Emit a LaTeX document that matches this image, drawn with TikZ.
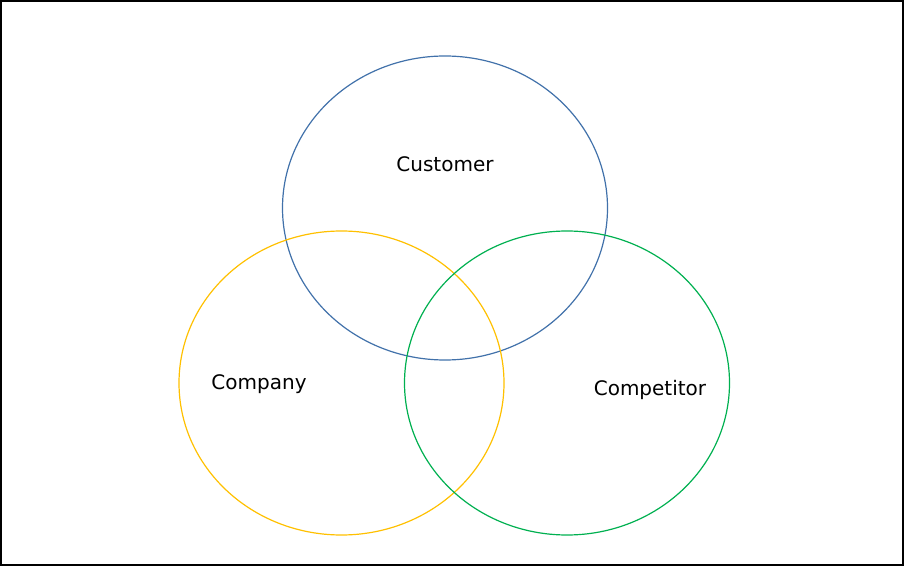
\documentclass[tikz,border=0pt]{standalone}
\usepackage{fontspec}
\setmainfont{DejaVu Sans}
\usetikzlibrary{shapes.geometric}
\definecolor{custblue}{RGB}{65,113,170}
\definecolor{compyellow}{RGB}{255,192,0}
\definecolor{compgreen}{RGB}{0,176,80}
\tikzset{
  circ/.style={ellipse, draw, line width=0.6pt, inner sep=0pt,
    minimum width=325\pxu, minimum height=304\pxu},
  lbl/.style={font=\fontsize{10}{12}\selectfont, inner sep=0pt}
}
\newlength{\pxu}
\setlength{\pxu}{0.5pt}

\begin{document}
\begin{tikzpicture}[x=0.5pt,y=-0.5pt]
%\draw[help lines] (0,0) grid (904,566);
\useasboundingbox (0,0) rectangle (904,566);
\draw[line width=1.2pt] (0.6,0.6) rectangle (903.4,565.4);
\node[circ, custblue] (customer) at (445,208) {};
\node[circ, compyellow] (company) at (341.5,383) {};
\node[circ, compgreen] (competitor) at (567,383) {};
\node[lbl] (customerlbl) at (445,164) {Customer};
\node[lbl] (companylbl) at (259,384) {Company};
\node[lbl] (competitorlbl) at (650,390) {Competitor};
\end{tikzpicture}
\end{document}
